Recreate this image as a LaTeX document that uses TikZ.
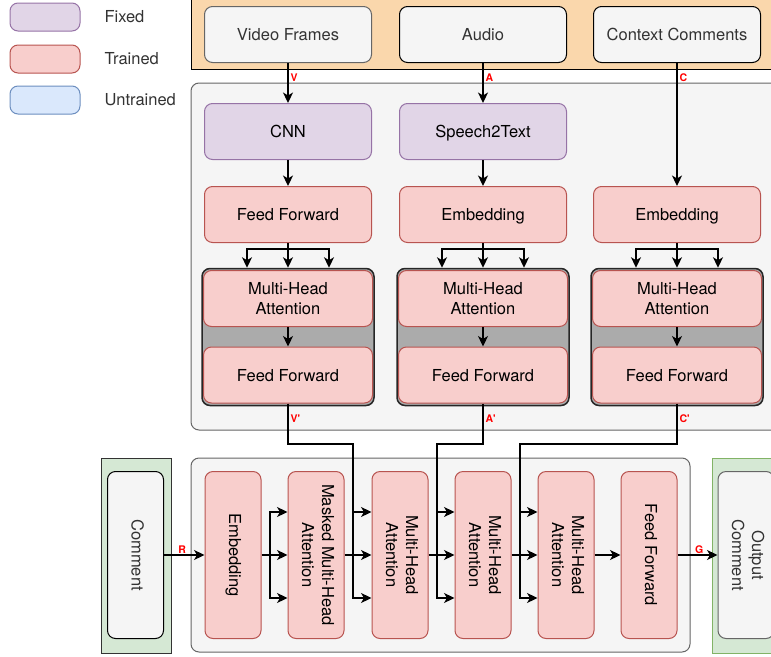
\documentclass[tikz,border=0pt]{standalone}
\usepackage{fontspec}
\setmainfont{TeX Gyre Heros}
\usetikzlibrary{arrows.meta}
\definecolor{fixfill}{HTML}{E1D5E7}
\definecolor{fixline}{HTML}{9673A6}
\definecolor{trfill}{HTML}{F8CECC}
\definecolor{trline}{HTML}{B85450}
\definecolor{unfill}{HTML}{DAE8FC}
\definecolor{unline}{HTML}{6C8EBF}
\definecolor{infill}{HTML}{F5F5F5}
\definecolor{inline}{HTML}{666666}
\definecolor{txtgrey}{HTML}{333333}
\definecolor{orfill}{HTML}{FAD7AC}
\definecolor{grfill}{HTML}{D5E8D4}
\definecolor{grline}{HTML}{82B366}
\definecolor{grpfill}{HTML}{ABABAB}
\newcommand{\vtxt}[1]{\rotatebox{-90}{\begin{tabular}{@{}c@{}}#1\end{tabular}}}

\begin{document}
\begin{tikzpicture}[x=1pt, y=1pt, yscale=-1, font=\fontsize{16.5}{20}\selectfont,
    arr/.style={-{Stealth[length=10.5pt, width=10pt, inset=3pt]}, line width=1.3pt},
    ln/.style={line width=1.3pt},
    blk/.style={rounded corners=8pt, line width=1pt, align=center, inner sep=0pt},
    hbox/.style={blk, minimum width=167pt, minimum height=56pt, text depth=0pt},
    vbox/.style={blk, minimum width=56pt, minimum height=167pt},
    fixed/.style={fill=fixfill, draw=fixline},
    trained/.style={fill=trfill, draw=trline},
    untrained/.style={fill=unfill, draw=unline},
    input/.style={fill=infill, draw=black, text=txtgrey},
    grp/.style={blk, fill=grpfill, draw=black!85, line width=1.5pt, minimum width=172pt, minimum height=137pt},
    lbl/.style={text=red, font=\fontsize{10.5}{12}\selectfont\bfseries, inner sep=1pt}]
    \clip (0,0) rectangle (771,656);

    % legend
    \node[blk, fixed, minimum width=70pt, minimum height=28pt] (lfix) at (45,17) {};
    \node[blk, trained, minimum width=70pt, minimum height=28pt] (ltr) at (45,59) {};
    \node[blk, untrained, minimum width=70pt, minimum height=28pt] (lun) at (45,100) {};
    \node[anchor=west, text=txtgrey] (tfix) at (101,17) {Fixed};
    \node[anchor=west, text=txtgrey] (ttr) at (101,59) {Trained};
    \node[anchor=west, text=txtgrey] (tun) at (101,100) {Untrained};

    % panels
    \draw[fill=orfill, line width=1pt] (191,-2) rectangle (800,69);
    \draw[rounded corners=8pt, fill=infill, draw=inline, line width=1pt] (191,83) rectangle (800,430);
    \draw[rounded corners=8pt, fill=infill, draw=inline, line width=1pt] (191,458) rectangle (690,652);
    \draw[fill=grfill, draw=black!80, line width=1pt] (101,458) rectangle (171,653);
    \draw[fill=grfill, draw=grline, line width=1pt] (712,458) rectangle (800,653);

    % inputs
    \node[hbox, input, draw=inline] (vf) at (288,34.5) {Video Frames};
    \node[hbox, input] (au) at (483,34.5) {Audio};
    \node[hbox, input] (cc) at (677,34.5) {Context Comments};

    % encoders
    \node[hbox, fixed] (cnn) at (288,131.5) {CNN};
    \node[hbox, fixed] (s2t) at (483,131.5) {Speech2Text};
    \node[hbox, trained] (ffv) at (288,214.5) {Feed Forward};
    \node[hbox, trained] (emba) at (483,214.5) {Embedding};
    \node[hbox, trained] (embc) at (677,214.5) {Embedding};

    \node[grp] (gv) at (288,337) {};
    \node[grp] (ga) at (483,337) {};
    \node[grp] (gc) at (677,337) {};
    \node[hbox, trained, minimum width=169pt] (mhav) at (288,298.5) {Multi-Head\\Attention};
    \node[hbox, trained, minimum width=169pt] (mhaa) at (483,298.5) {Multi-Head\\Attention};
    \node[hbox, trained, minimum width=169pt] (mhac) at (677,298.5) {Multi-Head\\Attention};
    \node[hbox, trained, minimum width=169pt] (ffv2) at (288,375) {Feed Forward};
    \node[hbox, trained, minimum width=169pt] (ffa2) at (483,375) {Feed Forward};
    \node[hbox, trained, minimum width=169pt] (ffc2) at (677,375) {Feed Forward};

    % decoder
    \node[vbox, input] (cm) at (135.5,555) {\vtxt{Comment}};
    \node[vbox, trained] (emb) at (233,555) {\vtxt{Embedding}};
    \node[vbox, trained] (mask) at (316,555) {\vtxt{Masked Multi-Head\\Attention}};
    \node[vbox, trained] (mh1) at (400,555) {\vtxt{Multi-Head\\Attention}};
    \node[vbox, trained] (mh2) at (483,555) {\vtxt{Multi-Head\\Attention}};
    \node[vbox, trained] (mh3) at (566,555) {\vtxt{Multi-Head\\Attention}};
    \node[vbox, trained] (ffo) at (649,555) {\vtxt{Feed Forward}};
    \node[vbox, input, draw=inline] (oc) at (746,555) {\vtxt{Output\\Comment}};

    \draw[arr] (vf) -- node[lbl, anchor=west, pos=0.36, xshift=1pt] {V} (cnn);
    \draw[arr] (au) -- node[lbl, anchor=west, pos=0.36, xshift=1pt] {A} (s2t);
    \draw[arr] (cc) -- node[lbl, anchor=west, pos=0.12, xshift=1pt] {C} (embc);
    \draw[arr] (cnn) -- (ffv);
    \draw[arr] (s2t) -- (emba);

    \coordinate (fv) at (288,249);
    \coordinate (fa) at (483,249);
    \coordinate (fc) at (677,249);
    \draw[ln] (ffv) -- (fv);
    \draw[arr] (fv) -| ([xshift=-41pt]gv.north);
    \draw[arr] (fv) -- (gv.north);
    \draw[arr] (fv) -| ([xshift=41pt]gv.north);
    \draw[ln] (emba) -- (fa);
    \draw[arr] (fa) -| ([xshift=-41pt]ga.north);
    \draw[arr] (fa) -- (ga.north);
    \draw[arr] (fa) -| ([xshift=41pt]ga.north);
    \draw[ln] (embc) -- (fc);
    \draw[arr] (fc) -| ([xshift=-41pt]gc.north);
    \draw[arr] (fc) -- (gc.north);
    \draw[arr] (fc) -| ([xshift=41pt]gc.north);

    \draw[arr] (mhav) -- (ffv2);
    \draw[arr] (mhaa) -- (ffa2);
    \draw[arr] (mhac) -- (ffc2);

    \coordinate (vj) at (353,444);
    \coordinate (aj) at (437,444);
    \coordinate (cj) at (520,444);
    \draw[arr] (ffv2) -- node[lbl, anchor=west, pos=0.37, xshift=1pt] {V\textquotesingle} (ffv2 |- vj) -- (vj) |- ([yshift=43pt]mh1.west);
    \draw[arr] (ffa2) -- node[lbl, anchor=west, pos=0.37, xshift=1pt] {A\textquotesingle} (ffa2 |- aj) -- (aj) |- ([yshift=43pt]mh2.west);
    \draw[arr] (ffc2) -- node[lbl, anchor=west, pos=0.37, xshift=1pt] {C\textquotesingle} (ffc2 |- cj) -- (cj) |- ([yshift=43pt]mh3.west);

    \draw[arr] (cm) -- node[lbl, anchor=south, pos=0.45] {R} (emb);
    \coordinate (k1) at (270,555);
    \draw[ln] (emb) -- (k1);
    \draw[arr] (k1) |- ([yshift=43pt]mask.west);
    \draw[arr] (k1) -- (mask);
    \draw[arr] (k1) |- ([yshift=-43pt]mask.west);
    \coordinate (k2) at (353,555);
    \draw[ln] (mask) -- (k2);
    \draw[arr] (k2) -- (mh1);
    \draw[arr] (k2) |- ([yshift=-43pt]mh1.west);
    \coordinate (k3) at (437,555);
    \draw[ln] (mh1) -- (k3);
    \draw[arr] (k3) -- (mh2);
    \draw[arr] (k3) |- ([yshift=-43pt]mh2.west);
    \coordinate (k4) at (520,555);
    \draw[ln] (mh2) -- (k4);
    \draw[arr] (k4) -- (mh3);
    \draw[arr] (k4) |- ([yshift=-43pt]mh3.west);
    \draw[arr] (mh3) -- (ffo);
    \draw[arr] (ffo) -- node[lbl, anchor=south, pos=0.54] {G} (oc);
\end{tikzpicture}
\end{document}
